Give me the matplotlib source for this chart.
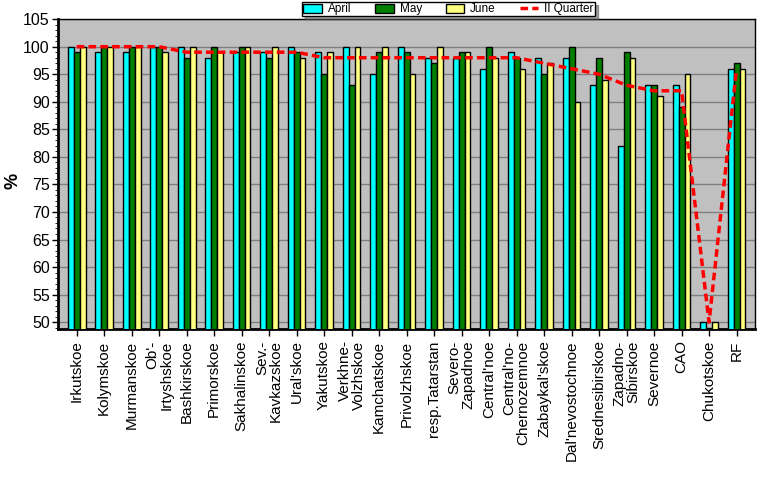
import matplotlib
matplotlib.use('Agg')
from matplotlib import pyplot as plt
from matplotlib.ticker import MultipleLocator
import numpy as np

plt.rcParams['font.family'] = ['Liberation Sans', 'DejaVu Sans']

regions = ['Irkutskoe', 'Kolymskoe', 'Murmanskoe', "Ob'-\nIrtyshskoe", 'Bashkirskoe',
           'Primorskoe', 'Sakhalinskoe', 'Sev.-\nKavkazskoe', "Ural'skoe", 'Yakutskoe',
           'Verkhne-\nVolzhskoe', 'Kamchatskoe', 'Privolzhskoe', 'resp.Tatarstan',
           'Severo-\nZapadnoe', "Central'noe", "Central'no-\nChernozemnoe", "Zabaykal'skoe",
           "Dal'nevostochnoe", 'Srednesibirskoe', 'Zapadno-\nSibirskoe', 'Severnoe',
           'CAO', 'Chukotskoe', 'RF']

april = [100, 99, 99, 100, 100, 98, 99, 99, 100, 99, 100, 95, 100, 98, 98, 96, 99,
         98, 98, 93, 82, 93, 93, 50, 96]
may = [99, 100, 100, 100, 98, 100, 100, 98, 99, 95, 93, 99, 99, 97, 99, 100, 98,
       95, 100, 98, 99, 93, 89, 49, 97]
june = [100, 100, 100, 99, 100, 99, 100, 100, 98, 99, 100, 100, 95, 100, 99, 98, 96,
        97, 90, 94, 98, 91, 95, 50, 96]
quarter = [100, 100, 100, 100, 99, 99, 99, 99, 99, 98, 98, 98, 98, 98, 98, 98, 98,
           97, 96, 95, 93, 92, 92, 50, 96]

fig = plt.figure(figsize=(7.77, 4.79), dpi=100)
ax = fig.add_axes([0.0746, 0.3125, 0.8974, 0.6475])
ax.set_facecolor('#C0C0C0')

x = np.arange(len(regions))
w = 0.215
kw = dict(width=w, edgecolor='black', linewidth=1, zorder=3)
b1 = ax.bar(x - w, april, color='#00FFFF', label='April', **kw)
b2 = ax.bar(x, may, color='#008000', label='May', **kw)
b3 = ax.bar(x + w, june, color='#FFFF80', label='June', **kw)
ln, = ax.plot(x, quarter, color='#FF0000', linestyle=(0, (2.2, 1.2)), linewidth=2.5,
              label='II Quarter', zorder=4)

ax.set_xlim(-0.68, len(regions) - 1 + 0.68)
ax.set_ylim(48.7, 105)
ax.yaxis.set_major_locator(MultipleLocator(5))
ax.yaxis.set_minor_locator(MultipleLocator(1))
ax.grid(axis='y', color='#808080', linewidth=1, zorder=0)
ax.set_axisbelow(True)

ax.set_xticks(x)
ax.set_xticklabels(regions, rotation=90, ha='center', va='top', multialignment='right',
                   fontsize=11, linespacing=1.0)
ax.tick_params(axis='y', labelsize=11.5, direction='out', length=4, width=1, pad=2)
ax.tick_params(axis='y', which='minor', length=2)
ax.tick_params(axis='x', direction='out', length=5, width=1, pad=3)

for s in ['left', 'bottom']:
    ax.spines[s].set_linewidth(2)
for s in ['top', 'right']:
    ax.spines[s].set_linewidth(1)

# "%" sits close to the figure edge, place it by hand
ax.set_ylabel('%', fontsize=13, fontweight='bold')
ax.yaxis.set_label_coords(-0.052, 0.48)

leg = fig.legend(handles=[b1, b2, b3, ln], loc='upper center', ncol=4,
                 bbox_to_anchor=(0.577, 1.008), fontsize=8.5, frameon=True, fancybox=False,
                 shadow=True, edgecolor='black', handlelength=1.6, handleheight=0.8,
                 columnspacing=2.0, borderpad=0.1, handletextpad=0.5)
leg.get_frame().set_linewidth(1)

fig.savefig('out.png', dpi=100)
